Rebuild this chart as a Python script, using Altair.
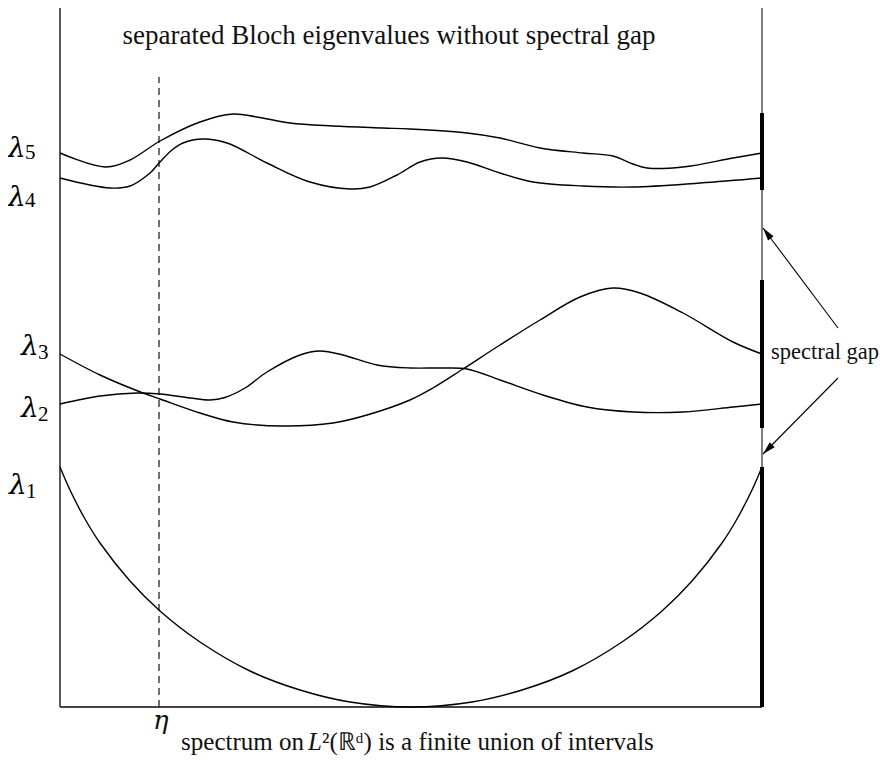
import altair as alt
import pandas as pd

# ---- data (x: quasimomentum offset from left edge, E: energy above bottom) ----
lambda1_k = [0, 10, 25, 40, 70, 100, 140, 190, 240, 290, 351, 412, 462, 512, 562, 602, 632, 662, 677, 692, 702]
lambda1_E = [240, 217, 188, 164, 126, 96, 65, 36, 17, 5, 0, 5, 17, 36, 65, 96, 126, 164, 188, 217, 240]

lambda2_k = [0, 40, 77, 100, 130, 150, 165, 185, 207, 240, 260, 283, 317, 350, 383, 407, 440, 483, 527, 573, 623, 673, 702]
lambda2_E = [303, 311, 314, 313, 309, 307, 309.5, 319, 335, 352, 356, 352, 342, 339, 339, 338, 327, 312, 300, 295, 295, 300, 303]

lambda3_k = [0, 40, 83, 100, 140, 173, 223, 273, 307, 350, 373, 403, 440, 480, 520, 553, 580, 623, 673, 702]
lambda3_E = [353, 332, 314, 308, 294, 285, 281, 284, 292, 307, 319, 338, 362, 387, 410, 419, 414, 394, 365, 353]

lambda4_k = [0, 50, 70, 90, 100, 112, 123, 143, 167, 207, 250, 290, 310, 337, 360, 382, 407, 440, 473, 523, 573, 640, 702]
lambda4_E = [529, 519, 521, 534, 545, 557, 564, 568, 564, 544, 525, 518, 520, 532, 545, 549, 545, 534, 525, 521, 520, 524, 529]

lambda5_k = [0, 45, 70, 100, 140, 173, 197, 230, 273, 323, 350, 407, 440, 480, 523, 553, 573, 587, 623, 673, 702]
lambda5_E = [554, 540, 547, 566, 585, 593, 590, 584, 581, 579, 578, 574, 569, 559, 554, 551, 543, 539, 540, 549, 554]

band_lo = [0, 279, 517]
band_hi = [240, 427, 594]

edge_k = [0, 702]
frame_top = 707
eta_k = 99
eta_top = 630

label_names = ["1", "2", "3", "4", "5"]
label_k = [-51, -39, -39, -52, -52]
label_E = [213, 290, 352, 501, 550]
sub_k = [-34, -22, -22, -35, -35]
sub_E = [209, 286, 348, 500, 548]

arrow_tail_k = [778, 778]
arrow_tail_E = [379, 329]
arrow_tip_k = [703, 703]
arrow_tip_E = [479, 253]

title_text = "separated Bloch eigenvalues without spectral gap"
title_pos = (329, 663)
gap_text = "spectral gap"
gap_pos = (711, 348)
eta_text = "η"
eta_pos = (93, -22)
bottom_a = "spectrum on"
bottom_a_pos = (244, -43)
bottom_b = "L"
bottom_b_pos = (248, -43)
bottom_c = "²(ℝᵈ) is a finite union of intervals"
bottom_c_pos = (262, -43)

# ---- build tables ----
rows = []
for name, ks, es in [("λ1", lambda1_k, lambda1_E), ("λ2", lambda2_k, lambda2_E),
                     ("λ3", lambda3_k, lambda3_E), ("λ4", lambda4_k, lambda4_E),
                     ("λ5", lambda5_k, lambda5_E)]:
    for k, e in zip(ks, es):
        rows.append({"band": name, "k": k, "E": e})
curves = pd.DataFrame(rows)

xs = alt.Scale(domain=[0, 702], nice=False, zero=False)
ys = alt.Scale(domain=[0, 699], nice=False, zero=False)
FONT = "Liberation Serif"
GREEK = "DejaVu Serif"

def X(f):
    return alt.X(f, type="quantitative", scale=xs, axis=None)

def Y(f):
    return alt.Y(f, type="quantitative", scale=ys, axis=None)

curve_layer = alt.Chart(curves).mark_line(
    interpolate="catmull-rom", color="black", strokeWidth=1.4
).encode(x=X("k"), y=Y("E"), detail="band:N")

left_edge = alt.Chart(pd.DataFrame({"k": [edge_k[0]], "y0": [0], "y1": [frame_top]})).mark_rule(
    color="black", strokeWidth=1.3
).encode(x=X("k"), y=Y("y0"), y2="y1")

right_edge = alt.Chart(pd.DataFrame({"k": [edge_k[1]], "y0": [0], "y1": [frame_top]})).mark_rule(
    color="black", strokeWidth=1.0
).encode(x=X("k"), y=Y("y0"), y2="y1")

bottom_edge = alt.Chart(pd.DataFrame({"k0": [edge_k[0]], "k1": [edge_k[1]], "E": [0]})).mark_rule(
    color="#444444", strokeWidth=1.8
).encode(x=X("k0"), x2="k1", y=Y("E"))

bands = alt.Chart(pd.DataFrame({"k": [edge_k[1]] * 3, "lo": band_lo, "hi": band_hi})).mark_rule(
    color="black", strokeWidth=4
).encode(x=X("k"), y=Y("lo"), y2="hi")

eta_line = alt.Chart(pd.DataFrame({"k": [eta_k], "y0": [0], "y1": [eta_top]})).mark_rule(
    color="#222222", strokeWidth=1.3, strokeDash=[7, 5]
).encode(x=X("k"), y=Y("y0"), y2="y1")

arrows_df = pd.DataFrame({"k0": arrow_tail_k, "E0": arrow_tail_E, "k1": arrow_tip_k, "E1": arrow_tip_E})
shafts = alt.Chart(arrows_df).mark_rule(color="black", strokeWidth=1.1).encode(
    x=X("k0"), y=Y("E0"), x2="k1", y2="E1")

head_shape = "M0,0L-0.27,1L0.27,1Z"
head_up = alt.Chart(pd.DataFrame({"k": [arrow_tip_k[0]], "E": [arrow_tip_E[0]]})).mark_point(
    shape=head_shape, filled=True, color="black", size=676, angle=323, opacity=1, strokeWidth=0
).encode(x=X("k"), y=Y("E"))
head_down = alt.Chart(pd.DataFrame({"k": [arrow_tip_k[1]], "E": [arrow_tip_E[1]]})).mark_point(
    shape=head_shape, filled=True, color="black", size=676, angle=225, opacity=1, strokeWidth=0
).encode(x=X("k"), y=Y("E"))

lam_df = pd.DataFrame({"k": label_k, "E": label_E, "t": ["λ"] * 5})
lam_text = alt.Chart(lam_df).mark_text(
    align="left", baseline="alphabetic", font=GREEK, fontSize=28, fontStyle="italic", color="black"
).encode(x=X("k"), y=Y("E"), text="t:N")

sub_df = pd.DataFrame({"k": sub_k, "E": sub_E, "t": label_names})
sub_text = alt.Chart(sub_df).mark_text(
    align="left", baseline="alphabetic", font=FONT, fontSize=21, color="black"
).encode(x=X("k"), y=Y("E"), text="t:N")

def label(txt, pos, size, align="left", style="normal", font=FONT):
    df = pd.DataFrame({"k": [pos[0]], "E": [pos[1]], "t": [txt]})
    return alt.Chart(df).mark_text(
        align=align, baseline="alphabetic", font=font, fontSize=size, fontStyle=style, color="#111111"
    ).encode(x=X("k"), y=Y("E"), text="t:N")

title = label(title_text, title_pos, 27, align="center")
gap = label(gap_text, gap_pos, 22.5)
eta = label(eta_text, eta_pos, 26, style="italic", font=GREEK)
bottom1 = label(bottom_a, bottom_a_pos, 25, align="right")
bottom2 = label(bottom_b, bottom_b_pos, 25, style="italic")
bottom3 = label(bottom_c, bottom_c_pos, 25)

chart = alt.layer(
    left_edge, right_edge, bottom_edge, bands, eta_line, curve_layer,
    shafts, head_up, head_down, lam_text, sub_text, title, gap, eta,
    bottom1, bottom2, bottom3
).properties(
    width=702, height=699,
    autosize=alt.AutoSizeParams(type="none"),
    padding={"left": 52, "top": 0, "right": 123, "bottom": 53},
).configure_view(stroke=None)

chart.save("out.html", embed_options={"renderer": "svg", "actions": False})
